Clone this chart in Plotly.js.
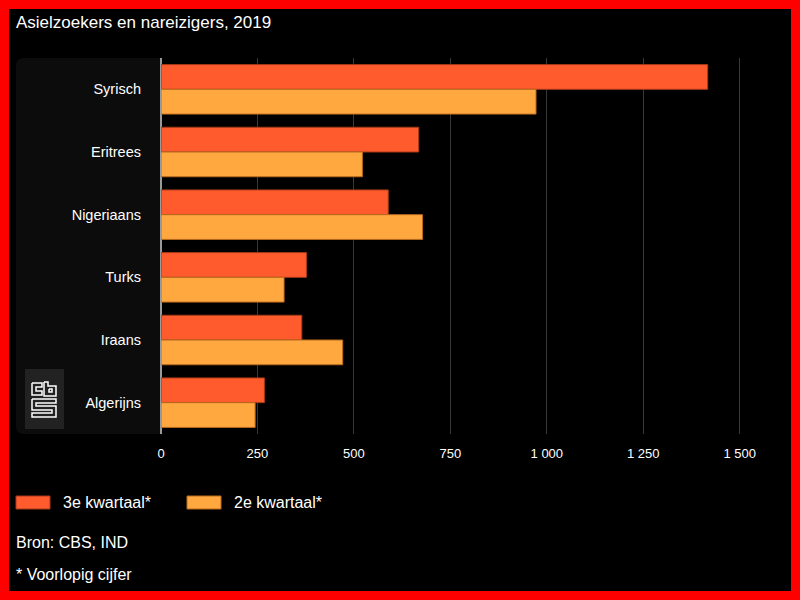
<!DOCTYPE html>
<html>
<head>
<meta charset="utf-8">
<script src="https://cdn.plot.ly/plotly-3.0.1.min.js"></script>
<style>
  html, body { margin: 0; padding: 0; background: #000; }
  #wrap { position: relative; width: 800px; height: 600px; }
  #chart { width: 800px; height: 600px; }
  #frame { position: absolute; left: 0; top: 0; width: 800px; height: 600px; box-sizing: border-box; border: 9px solid #ff0000; pointer-events: none; }
</style>
</head>
<body>
<div id="wrap"><div id="chart"></div><div id="frame"></div></div>
<script>
const categories = ['Syrisch', 'Eritrees', 'Nigeriaans', 'Turks', 'Iraans', 'Algerijns'];
const q3Values = [1417, 668, 589, 377, 365, 268];
const q2Values = [972, 522, 678, 319, 471, 244];
const seriesNames = ['3e kwartaal*', '2e kwartaal*'];
const seriesColors = ['#ff5b2c', '#ffa83f'];
const seriesEdges = ['#a53a18', '#b86a1e'];
const tickValues = [0, 250, 500, 750, 1000, 1250, 1500];
const titleText = 'Asielzoekers en nareizigers, 2019';
const sourceText = 'Bron: CBS, IND';
const noteText = '* Voorlopig cijfer';

const W = 800, H = 600;
const M = {l: 161, r: 41, t: 58, b: 166};
const PW = W - M.l - M.r, PH = H - M.t - M.b;
const px2x = p => (p - M.l) / PW;
const px2y = p => (H - M.b - p) / PH;

const FONT = 'Liberation Sans, Arial, sans-serif';

const traces = [
  {type: 'bar', orientation: 'h', name: seriesNames[0], y: categories, x: q3Values,
   marker: {color: seriesColors[0], line: {color: seriesEdges[0], width: 1}}},
  {type: 'bar', orientation: 'h', name: seriesNames[1], y: categories, x: q2Values,
   marker: {color: seriesColors[1], line: {color: seriesEdges[1], width: 1}}}
];

// dark panel behind category labels (rounded left corners)
const x0 = px2x(16), x1 = px2x(161), yt = px2y(58), yb = px2y(434);
const rx = 8 / PW, ry = 8 / PH;
const panelPath = `M ${x1} ${yt} L ${x0 + rx} ${yt} Q ${x0} ${yt} ${x0} ${yt - ry} L ${x0} ${yb + ry} Q ${x0} ${yb} ${x0 + rx} ${yb} L ${x1} ${yb} Z`;

const shapes = [
  {type: 'path', xref: 'paper', yref: 'paper', path: panelPath, fillcolor: '#0c0c0c', line: {width: 0}, layer: 'below'},
  // logo background
  {type: 'rect', xref: 'paper', yref: 'paper', x0: px2x(25), x1: px2x(64), y0: px2y(369), y1: px2y(429), fillcolor: '#222222', line: {width: 0}, layer: 'below'}
];

// CBS logo strokes (pixel polylines relative to logo box origin)
const logoOrigin = [25, 369];
const logoPolys = [
  [[7,14],[17,14],[17,18],[11,18],[11,22],[17,22],[17,26],[7,26],[7,14]],
  [[19,13],[23,13],[23,17],[31,17],[31,27],[19,27],[19,13]],
  [[24,20],[27,20],[27,23],[24,23],[24,20]],
  [[7,30],[31,30],[31,34],[11,34],[11,37],[31,37],[31,48],[7,48],[7,44],[27,44],[27,41],[7,41],[7,30]]
];
logoPolys.forEach(poly => {
  const d = poly.map((pt, i) => (i ? 'L ' : 'M ') + px2x(logoOrigin[0] + pt[0]) + ' ' + px2y(logoOrigin[1] + pt[1])).join(' ');
  shapes.push({type: 'path', xref: 'paper', yref: 'paper', path: d, line: {color: '#ffffff', width: 1.5}, layer: 'above'});
});

// legend swatches
const legendItems = [{x: 16, tx: 61}, {x: 187, tx: 232}];
const annotations = [];
legendItems.forEach((it, i) => {
  shapes.push({type: 'rect', xref: 'paper', yref: 'paper', x0: px2x(it.x), x1: px2x(it.x + 34), y0: px2y(496), y1: px2y(509),
    fillcolor: seriesColors[i], line: {color: seriesEdges[i], width: 1}});
  annotations.push({xref: 'paper', yref: 'paper', x: px2x(it.tx), y: px2y(502.5), xanchor: 'left', yanchor: 'middle',
    text: seriesNames[i], showarrow: false, font: {family: FONT, size: 16, color: '#ffffff'}});
});
annotations.push({xref: 'paper', yref: 'paper', x: px2x(14), y: px2y(542.5), xanchor: 'left', yanchor: 'middle',
  text: sourceText, showarrow: false, font: {family: FONT, size: 16, color: '#ffffff'}});
annotations.push({xref: 'paper', yref: 'paper', x: px2x(14), y: px2y(574.5), xanchor: 'left', yanchor: 'middle',
  text: noteText, showarrow: false, font: {family: FONT, size: 16, color: '#ffffff'}});

const layout = {
  width: W, height: H,
  margin: M,
  paper_bgcolor: '#000000',
  plot_bgcolor: 'rgba(0,0,0,0)',
  separators: ', ',
  showlegend: false,
  barmode: 'group',
  bargap: 0.21,
  bargroupgap: 0,
  font: {family: FONT, color: '#ffffff'},
  title: {text: titleText, x: 16 / W, xanchor: 'left', xref: 'container', y: 1 - 22 / H, yanchor: 'middle', yref: 'container',
    font: {family: FONT, size: 17, color: '#ffffff'}},
  xaxis: {
    range: [0, 1550], tickvals: tickValues, tickformat: ',d',
    showgrid: true, gridcolor: '#383838', gridwidth: 1,
    zeroline: true, zerolinecolor: '#9a9a9a', zerolinewidth: 2,
    showline: false, ticks: '', ticklabelstandoff: 10,
    tickfont: {family: FONT, size: 13, color: '#ffffff'}, fixedrange: true
  },
  yaxis: {
    autorange: 'reversed', showgrid: false, zeroline: false, showline: false, ticks: '',
    ticklabelstandoff: 19,
    tickfont: {family: FONT, size: 14.5, color: '#ffffff'}, fixedrange: true
  },
  shapes: shapes,
  annotations: annotations
};

Plotly.newPlot('chart', traces, layout, {staticPlot: true, displayModeBar: false});
</script>
</body>
</html>
